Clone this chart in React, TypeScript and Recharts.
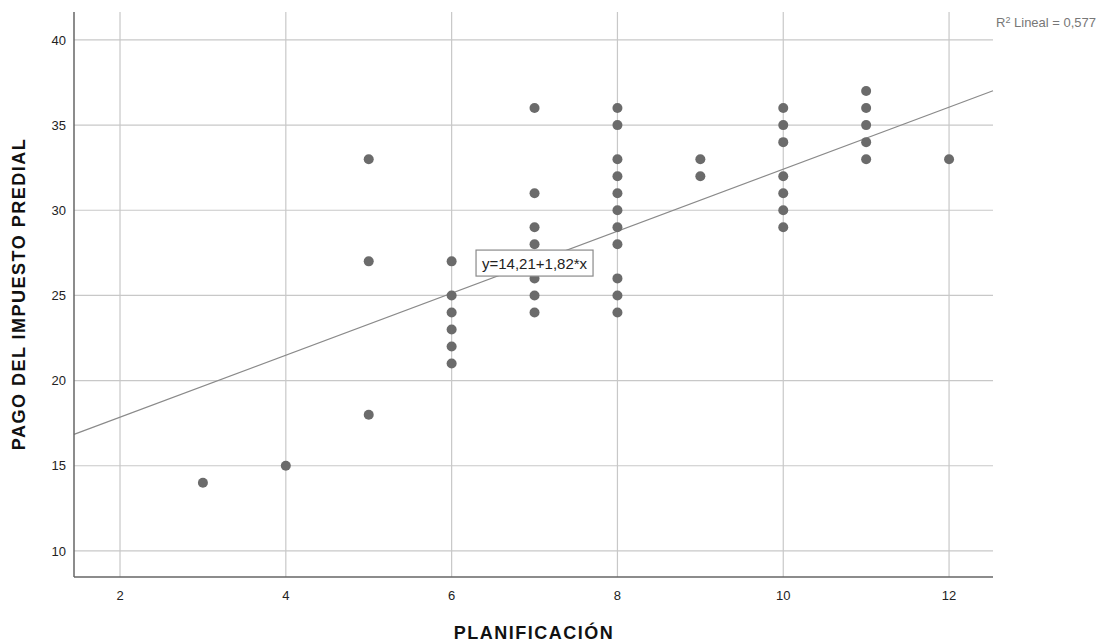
import React from 'react';
import { ComposedChart, Scatter, XAxis, YAxis, CartesianGrid, ReferenceLine, ReferenceDot } from 'recharts';

const planificacion = [3, 4, 5, 5, 5, 6, 6, 6, 6, 6, 6, 7, 7, 7, 7, 7, 7, 7, 8, 8, 8, 8, 8, 8, 8, 8, 8, 8, 8, 9, 9, 10, 10, 10, 10, 10, 10, 10, 11, 11, 11, 11, 11, 12];
const pagoPredial = [14, 15, 33, 27, 18, 27, 25, 24, 23, 22, 21, 36, 31, 29, 28, 26, 25, 24, 36, 35, 33, 32, 31, 30, 29, 28, 26, 25, 24, 33, 32, 36, 35, 34, 32, 31, 30, 29, 37, 36, 35, 34, 33, 33];
const xTicks = [2, 4, 6, 8, 10, 12];
const yTicks = [10, 15, 20, 25, 30, 35, 40];
const intercept = 14.21;
const slope = 1.82;
const xDomain = [1.445, 12.53];
const yDomain = [8.47, 41.64];

const points = planificacion.map((x, i) => ({ x, y: pagoPredial[i] }));

const EqBox = (props: any) => {
  const { cx, cy } = props;
  const w = 117;
  const h = 26;
  return (
    <g>
      <rect x={cx - w / 2} y={cy - h / 2} width={w} height={h} fill="#fff" stroke="#8a8a8a" strokeWidth={1.2} />
      <text x={cx} y={cy + 5.5} textAnchor="middle" fontSize={15} fontFamily="Liberation Sans, Arial, sans-serif" fill="#222">y=14,21+1,82*x</text>
    </g>
  );
};

export default function App() {
  return (
    <div style={{ position: 'fixed', left: 0, top: 0, width: 1104, height: 644, background: '#fff', fontFamily: 'Liberation Sans, Arial, sans-serif' }}>
      <ComposedChart width={1104} height={644} margin={{ top: 12, right: 111, bottom: 37, left: 0 }}>
        <CartesianGrid stroke="#c8c8c8" strokeWidth={1.2} horizontalValues={yTicks} verticalValues={xTicks} />
        <XAxis
          type="number"
          dataKey="x"
          domain={xDomain}
          ticks={xTicks}
          allowDataOverflow
          tickLine={false}
          axisLine={{ stroke: '#666', strokeWidth: 1.5 }}
          tick={{ fill: '#222', fontSize: 13 }}
          tickMargin={8}
          height={30}
        />
        <YAxis
          type="number"
          dataKey="y"
          domain={yDomain}
          ticks={yTicks}
          allowDataOverflow
          tickLine={false}
          axisLine={{ stroke: '#666', strokeWidth: 1.5 }}
          tick={{ fill: '#222', fontSize: 13 }}
          width={74}
        />
        <ReferenceLine
          segment={[
            { x: xDomain[0], y: intercept + slope * xDomain[0] },
            { x: xDomain[1], y: intercept + slope * xDomain[1] },
          ]}
          stroke="#8a8a8a"
          strokeWidth={1.2}
          ifOverflow="extendDomain"
        />
        <Scatter data={points} fill="#6b6b6b" isAnimationActive={false} shape={(p: any) => <circle cx={p.cx} cy={p.cy} r={5} fill="#6b6b6b" />} />
        <ReferenceDot x={7} y={26.9} shape={EqBox} ifOverflow="visible" />
      </ComposedChart>
      <div style={{ position: 'absolute', left: 996, top: 15, fontSize: 13, lineHeight: '16px', color: '#777', whiteSpace: 'nowrap' }}>
        R<sup style={{ fontSize: 9, verticalAlign: 'top', lineHeight: '10px' }}>2</sup> Lineal = 0,577
      </div>
      <div style={{ position: 'absolute', left: 534, top: 633, transform: 'translate(-50%, -50%)', fontSize: 18, letterSpacing: 1.5, fontWeight: 'bold', color: '#111', whiteSpace: 'nowrap' }}>
        PLANIFICACIÓN
      </div>
      <div style={{ position: 'absolute', left: 19, top: 294, transform: 'translate(-50%, -50%) rotate(-90deg)', fontSize: 18, letterSpacing: 1.5, fontWeight: 'bold', color: '#111', whiteSpace: 'nowrap' }}>
        PAGO DEL IMPUESTO PREDIAL
      </div>
    </div>
  );
}
